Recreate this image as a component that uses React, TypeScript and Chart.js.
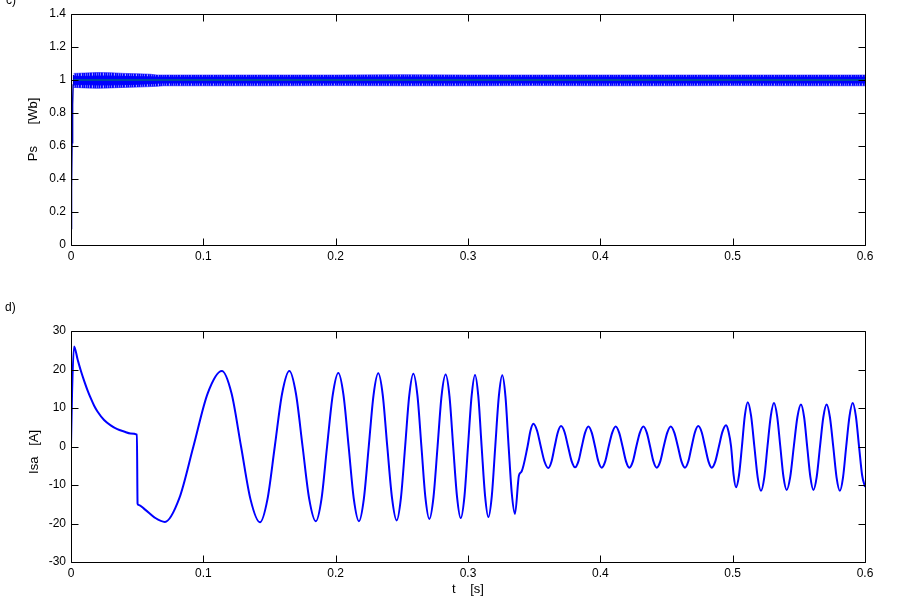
import React, { useEffect, useRef } from 'react';
import { Chart, registerables } from 'chart.js';

Chart.register(...registerables);

// ---------- tick values / labels ----------
const xTicks = [0, 0.1, 0.2, 0.3, 0.4, 0.5, 0.6];
const xTickLabels = ['0', '0.1', '0.2', '0.3', '0.4', '0.5', '0.6'];
const psTicks = [0, 0.2, 0.4, 0.6, 0.8, 1, 1.2, 1.4];
const psTickLabels = ['0', '0.2', '0.4', '0.6', '0.8', '1', '1.2', '1.4'];
const isaTicks = [-30, -20, -10, 0, 10, 20, 30];
const isaTickLabels = ['-30', '-20', '-10', '0', '10', '20', '30'];

// ---------- c) stator flux Ps ----------
const psRiseT = [0, 0.0004, 0.0008, 0.0012, 0.0016, 0.002];
const psRiseV = [0.1, 0.35, 0.62, 0.85, 0.97, 1.03];

const psBandT = [0.002, 0.01, 0.02, 0.03, 0.04, 0.05, 0.06, 0.065, 0.07, 0.1, 0.15, 0.2, 0.25, 0.3, 0.35, 0.4, 0.45, 0.5, 0.55, 0.6];
const psOuterHigh = [1.04, 1.042, 1.045, 1.044, 1.04, 1.038, 1.035, 1.03, 1.03, 1.03, 1.03, 1.03, 1.032, 1.03, 1.03, 1.03, 1.03, 1.03, 1.03, 1.03];
const psOuterLow = [0.955, 0.952, 0.95, 0.952, 0.955, 0.957, 0.96, 0.962, 0.965, 0.965, 0.965, 0.966, 0.965, 0.965, 0.966, 0.965, 0.965, 0.966, 0.965, 0.965];
const psInnerHigh = [1.022, 1.022, 1.024, 1.024, 1.022, 1.02, 1.019, 1.018, 1.018, 1.018, 1.018, 1.018, 1.018, 1.018, 1.018, 1.018, 1.018, 1.018, 1.018, 1.018];
const psInnerLow = [0.972, 0.972, 0.97, 0.97, 0.972, 0.974, 0.978, 0.981, 0.982, 0.982, 0.982, 0.982, 0.982, 0.982, 0.982, 0.982, 0.982, 0.982, 0.982, 0.982];

const psRefT = [0.002, 0.6];
const psRefV = [1, 1];

// ---------- d) stator current Isa: [t, value] ----------
const isaStartup: [number, number][] = [
  [0, 0], [0.0008, 14], [0.0023, 26], [0.005, 22.6], [0.0075, 19.6], [0.01, 17], [0.0125, 14.6],
  [0.015, 12.5], [0.0175, 10.6], [0.02, 9.1], [0.025, 6.9], [0.03, 5.5], [0.035, 4.5], [0.04, 3.9],
  [0.045, 3.4], [0.0498, 3.1], [0.0503, -14.8], [0.0508, -15.1], [0.056, -16.4], [0.063, -18.4],
  [0.071, -19.6],
];
const isaHighSwing: [number, number][] = [
  [0.0818, -13.5], [0.0925, 0], [0.1033, 13.8], [0.114, 19.6], [0.1213, 13.8], [0.1285, 0],
  [0.1357, -13.8], [0.1428, -19.7], [0.1484, -13.8], [0.154, 0], [0.1595, 13.7], [0.165, 19.6],
  [0.17, 13.7], [0.175, 0], [0.18, -13.6], [0.185, -19.4], [0.1893, -13.6], [0.1935, 0],
  [0.1978, 13.4], [0.202, 19.1], [0.2059, 13.4], [0.2098, 0], [0.2137, -13.6], [0.2176, -19.4],
  [0.2213, -13.6], [0.225, 0], [0.2286, 13.3], [0.2322, 19.0], [0.2356, 13.3], [0.239, 0],
  [0.2426, -13.4], [0.2461, -19.2], [0.2493, -13.4], [0.2525, 0], [0.2556, 13.2], [0.2587, 18.9],
  [0.2618, 13.2], [0.2648, 0], [0.2678, -13.2], [0.2708, -18.8], [0.2739, -13.2], [0.277, 0],
  [0.28, 13.1], [0.2831, 18.7], [0.286, 13.1], [0.2888, 0], [0.2917, -13], [0.2945, -18.6],
  [0.2973, -13], [0.3, 0], [0.3027, 13], [0.3053, 18.6], [0.3078, 13], [0.3103, 0],
  [0.3129, -12.8], [0.3154, -18.3], [0.318, -12.8], [0.3206, 0], [0.3233, 13], [0.3259, 18.5],
  [0.3283, 13], [0.3307, 0], [0.3331, -12.2], [0.3355, -17.5], [0.3385, -7.5], [0.3405, -6.5],
  [0.345, 0], [0.3472, 4.1],
];
const isaLowSwing: [number, number][] = [
  [0.3494, 5.9], [0.3522, 4.1], [0.355, 0], [0.3578, -3.9], [0.3607, -5.6], [0.3631, -3.9],
  [0.3655, 0], [0.3679, 3.7], [0.3703, 5.3], [0.373, 3.7], [0.3756, 0], [0.3783, -3.8],
  [0.3809, -5.4], [0.3835, -3.8], [0.386, 0], [0.3885, 3.6], [0.391, 5.2], [0.3935, 3.6],
  [0.396, 0], [0.3985, -3.85], [0.401, -5.5], [0.4037, -3.85], [0.4063, 0], [0.409, 3.6],
  [0.4116, 5.2], [0.4142, 3.6], [0.4168, 0], [0.4194, -3.85], [0.4219, -5.5], [0.4246, -3.85],
  [0.4272, 0], [0.4299, 3.6], [0.4325, 5.2], [0.4351, 3.6], [0.4376, 0], [0.4401, -3.85],
  [0.4426, -5.5], [0.4453, -3.85], [0.4479, 0], [0.4506, 3.6], [0.4532, 5.2], [0.4559, 3.6],
  [0.4586, 0], [0.4613, -3.85], [0.464, -5.5], [0.4665, -3.85], [0.469, 0], [0.4715, 3.7],
  [0.474, 5.3], [0.4766, 3.7], [0.4791, 0], [0.4817, -3.85], [0.4842, -5.5], [0.4869, -3.85],
  [0.4896, 0], [0.4923, 3.85], [0.495, 5.5], [0.4969, 3.85],
];
const isaMidSwing: [number, number][] = [
  [0.4988, 0], [0.5007, -7.4], [0.5025, -10.6], [0.5048, -7.4], [0.507, 0], [0.5092, 8],
  [0.5114, 11.5], [0.5139, 8], [0.5164, 0], [0.5189, -8], [0.5214, -11.5], [0.5239, -8],
  [0.5263, 0], [0.5288, 7.9], [0.5312, 11.3], [0.5336, 7.9], [0.536, 0], [0.5384, -7.9],
  [0.5408, -11.3], [0.5435, -7.9], [0.5462, 0], [0.5489, 7.6], [0.5516, 10.9], [0.554, 7.6],
  [0.5563, 0], [0.5587, -7.9], [0.561, -11.3], [0.5635, -7.9], [0.566, 0], [0.5685, 7.6],
  [0.571, 10.9], [0.5735, 7.6], [0.576, 0], [0.5785, -8], [0.581, -11.5], [0.5834, -8],
  [0.5858, 0], [0.5883, 7.9], [0.5907, 11.3], [0.5931, 7.9], [0.5955, 0], [0.5978, -7.4],
  [0.6, -10.5],
];

const FONT = '"Liberation Sans", Arial, Helvetica, sans-serif';
const BLUE = '#0000ff';

const pts = (t: number[], v: number[]) => t.map((x, i) => ({ x, y: v[i] }));
const pairPts = (...segs: [number, number][][]) =>
  segs.flat().map(([x, y]) => ({ x, y }));

// striped fill style to suggest the switching ripple of the flux band
function ripplePattern(): CanvasPattern | string {
  const c = document.createElement('canvas');
  c.width = 11;
  c.height = 1;
  const g = c.getContext('2d');
  if (!g) return 'rgba(0,0,255,0.7)';
  const alphas = [1, 0.5, 1, 0.9, 0.35, 1, 0.75, 1, 0.55, 0.95, 0.65];
  alphas.forEach((a, i) => {
    g.fillStyle = `rgba(0,0,255,${a})`;
    g.fillRect(i, 0, 1, 1);
  });
  return g.createPattern(c, 'repeat') || 'rgba(0,0,255,0.7)';
}

const boxPlugin = (letter: string, lx: number, ly: number) => ({
  id: 'matlabBox',
  afterDraw(chart: any) {
    const { ctx, chartArea: a, scales } = chart;
    const xs = scales.x;
    const ys = scales.y;
    ctx.save();
    ctx.strokeStyle = '#000';
    ctx.lineWidth = 1;
    const L = Math.round(a.left) + 0.5;
    const R = Math.round(a.right) + 0.5;
    const T = Math.round(a.top) + 0.5;
    const B = Math.round(a.bottom) + 0.5;
    const tl = 7;
    ctx.beginPath();
    ctx.rect(L, T, R - L, B - T);
    xs.ticks.forEach((t: any) => {
      const px = Math.round(xs.getPixelForValue(t.value)) + 0.5;
      ctx.moveTo(px, B);
      ctx.lineTo(px, B - tl);
      ctx.moveTo(px, T);
      ctx.lineTo(px, T + tl);
    });
    ys.ticks.forEach((t: any) => {
      const py = Math.round(ys.getPixelForValue(t.value)) + 0.5;
      ctx.moveTo(L, py);
      ctx.lineTo(L + tl, py);
      ctx.moveTo(R, py);
      ctx.lineTo(R - tl, py);
    });
    ctx.stroke();
    ctx.fillStyle = '#000';
    ctx.font = '12px ' + FONT;
    ctx.textAlign = 'left';
    ctx.textBaseline = 'alphabetic';
    ctx.fillText(letter, lx, ly);
    ctx.restore();
  },
});

const xScale = (xHeight: number, title?: any) => ({
  type: 'linear' as const,
  min: 0,
  max: 0.6,
  afterBuildTicks: (s: any) => {
    s.ticks = xTicks.map((v) => ({ value: v }));
  },
  afterFit: (s: any) => {
    s.height = xHeight;
  },
  grid: { display: false, drawTicks: false },
  border: { display: false },
  ticks: {
    autoSkip: false,
    maxRotation: 0,
    padding: 4,
    color: '#000',
    font: { family: FONT, size: 12 },
    callback: (v: any) => xTickLabels[xTicks.indexOf(v)] ?? '',
  },
  title: title ?? { display: false },
});

const yScale = (min: number, max: number, ticks: number[], labels: string[], title: string, tpad: number) => ({
  type: 'linear' as const,
  min,
  max,
  afterBuildTicks: (s: any) => {
    s.ticks = ticks.map((v) => ({ value: v }));
  },
  afterFit: (s: any) => {
    s.width = 71;
  },
  grid: { display: false, drawTicks: false },
  border: { display: false },
  ticks: {
    autoSkip: false,
    padding: 5,
    color: '#000',
    font: { family: FONT, size: 12 },
    callback: (v: any) => labels[ticks.indexOf(v)] ?? '',
  },
  title: {
    display: true,
    text: title,
    color: '#000',
    font: { family: FONT, size: 13 },
    padding: { top: tpad, bottom: 0 },
  },
});

const common = {
  animation: false as const,
  responsive: false,
  maintainAspectRatio: false,
  plugins: { legend: { display: false }, tooltip: { enabled: false } },
  elements: { point: { radius: 0 } },
};

export default function App() {
  const topRef = useRef<HTMLCanvasElement>(null);
  const botRef = useRef<HTMLCanvasElement>(null);

  useEffect(() => {
    const rip = ripplePattern();
    const c1 = new Chart(topRef.current as HTMLCanvasElement, {
      type: 'line',
      data: {
        datasets: [
          { data: pts(psRefT, psRefV), borderColor: 'rgb(0,150,70)', borderWidth: 1, fill: false, order: 0 },
          { data: pts(psBandT, psInnerHigh), borderColor: BLUE, borderWidth: 1, backgroundColor: BLUE, fill: '+1', order: 1 },
          { data: pts(psBandT, psInnerLow), borderColor: BLUE, borderWidth: 1, fill: false, order: 1 },
          { data: pts(psBandT, psOuterHigh), borderColor: 'rgba(0,0,255,0.55)', borderWidth: 1, backgroundColor: rip, fill: '+1', order: 2 },
          { data: pts(psBandT, psOuterLow), borderColor: 'rgba(0,0,255,0.55)', borderWidth: 1, fill: false, order: 2 },
          { data: pts(psRiseT, psRiseV), borderColor: '#0000b0', borderWidth: 1.5, fill: false, order: 3 },
        ] as any,
      },
      options: {
        ...common,
        layout: { padding: { left: 0, right: 43, top: 14, bottom: 0 } },
        scales: {
          x: xScale(55),
          y: yScale(0, 1.4, psTicks, psTickLabels, 'Ps      [Wb]', 26),
        },
      } as any,
      plugins: [boxPlugin('c)', 6, 4)],
    });

    const c2 = new Chart(botRef.current as HTMLCanvasElement, {
      type: 'line',
      data: {
        datasets: [
          {
            data: pairPts(isaStartup, isaHighSwing, isaLowSwing, isaMidSwing),
            borderColor: BLUE,
            borderWidth: 2,
            fill: false,
            cubicInterpolationMode: 'monotone',
          },
        ] as any,
      },
      options: {
        ...common,
        layout: { padding: { left: 0, right: 43, top: 31, bottom: 0 } },
        scales: {
          x: xScale(46, {
            display: true,
            text: 't    [s]',
            color: '#000',
            font: { family: FONT, size: 13 },
            padding: { top: 0, bottom: 11 },
          }),
          y: yScale(-30, 30, isaTicks, isaTickLabels, 'Isa   [A]   ', 27),
        },
      } as any,
      plugins: [boxPlugin('d)', 5, 11)],
    });

    return () => {
      c1.destroy();
      c2.destroy();
    };
  }, []);

  return (
    <div style={{ position: 'fixed', left: 0, top: 0, width: 908, height: 608, background: '#fff', overflow: 'hidden' }}>
      <canvas ref={topRef} width={908} height={300} style={{ position: 'absolute', left: 0, top: 0 }} />
      <canvas ref={botRef} width={908} height={308} style={{ position: 'absolute', left: 0, top: 300 }} />
    </div>
  );
}
